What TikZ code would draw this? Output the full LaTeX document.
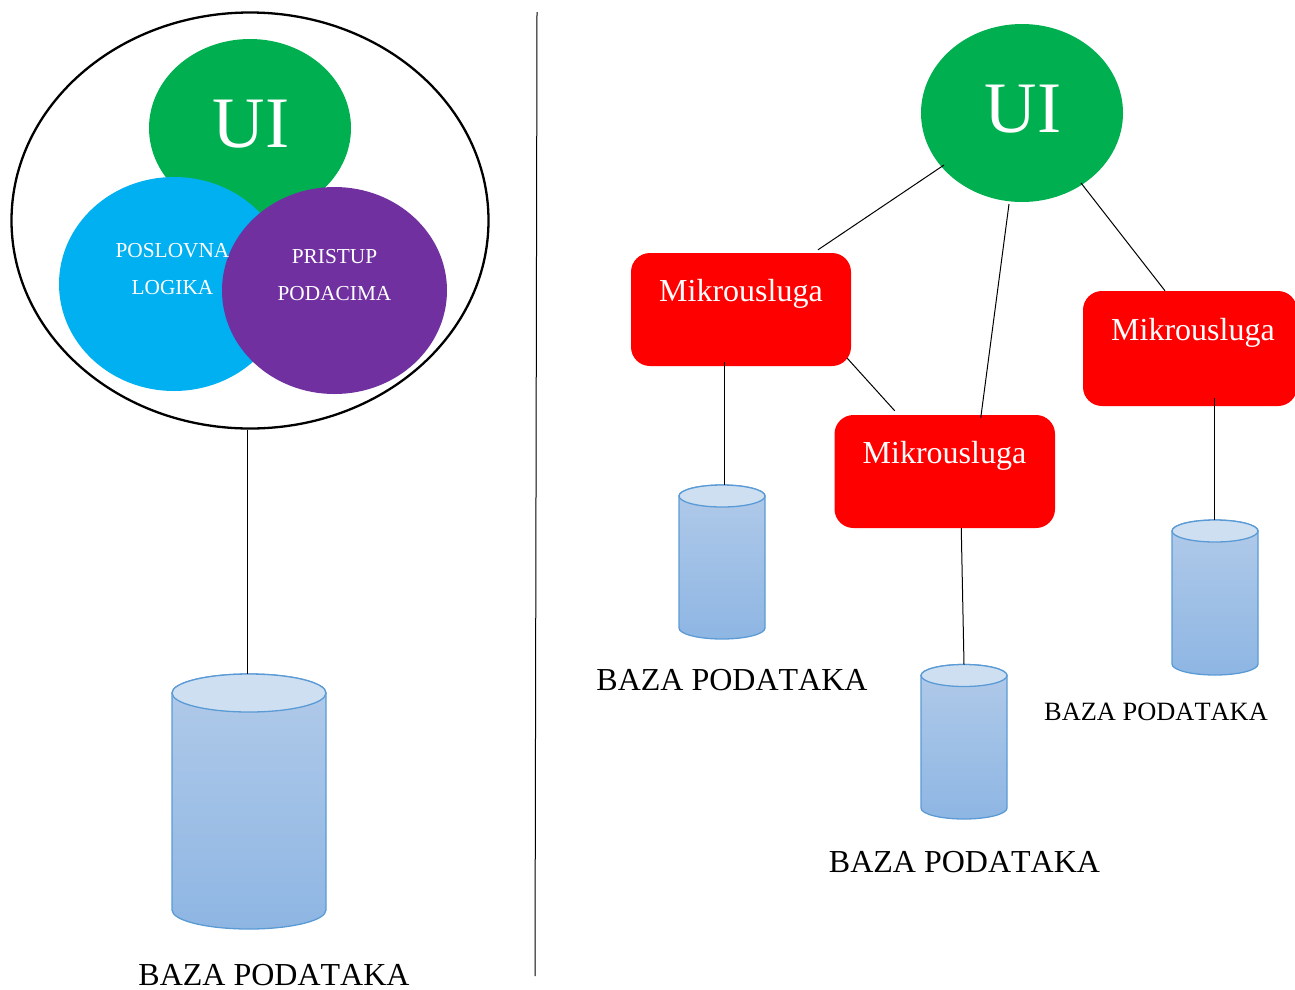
\documentclass[tikz,border=0pt]{standalone}
\usepackage{fontspec}
\setmainfont{Liberation Serif}
\newfontfamily\nokern[Kerning=Off]{Liberation Serif}
\definecolor{uigreen}{HTML}{00B050}
\definecolor{logicblue}{HTML}{00B0F0}
\definecolor{datapurple}{HTML}{7030A0}
\definecolor{dbline}{HTML}{5B9BD5}
\definecolor{dbtop}{HTML}{CFDFF2}
\definecolor{dbshadeA}{HTML}{B1CAE9}
\definecolor{dbshadeB}{HTML}{8EB6E3}
\newcommand{\fsz}[1]{\fontsize{#1}{#1}\selectfont}
\newcommand{\dbcyl}[6]{% name, cx, top-ellipse centre y, bottom-ellipse centre y, rx, ry
  \path[dbbody] (#2-#5,#3) -- (#2-#5,#4) arc[start angle=180,end angle=0,x radius=#5,y radius=#6] -- (#2+#5,#3) arc[start angle=0,end angle=-180,x radius=#5,y radius=#6] -- cycle;
  \draw[dbedge,fill=dbtop] (#2,#3) ellipse[x radius=#5,y radius=#6];
  \coordinate (#1) at (#2,#3-#6);
}
\tikzset{
  x=1pt,y=-1pt,
  micro/.style={shape=rectangle,rounded corners=19pt,fill=red,inner sep=0pt,minimum width=#1,minimum height=113pt},
  micro/.default=220pt,
  link/.style={draw=black,line width=1pt},
  dbbody/.style={draw=dbline,line width=1.3pt,top color=dbshadeA,bottom color=dbshadeB},
  dbedge/.style={draw=dbline,line width=1.3pt},
  whitetext/.style={text=white,anchor=base,inner sep=0pt},
  blacktext/.style={text=black,anchor=base,inner sep=0pt},
}
\usetikzlibrary{shapes.geometric}
\begin{document}
\begin{tikzpicture}
\useasboundingbox (0,0) rectangle (1295,989);
\clip (0,0) rectangle (1295,989);
% left: monolith
\node[shape=ellipse,draw=black,line width=2.3pt,minimum width=477pt,minimum height=416pt,inner sep=0pt] (mono) at (250,220.5) {};
\node[shape=ellipse,fill=uigreen,minimum width=202pt,minimum height=178pt,inner sep=0pt] (uiL) at (250,128) {};
\node[shape=ellipse,fill=logicblue,minimum width=230pt,minimum height=214pt,inner sep=0pt] (logic) at (174,284) {};
\node[shape=ellipse,fill=datapurple,minimum width=225pt,minimum height=207pt,inner sep=0pt] (data) at (334.5,290.5) {};
\node[whitetext,font=\fsz{72.5}] (uiLt) at (251,147) {UI};
\node[whitetext,font=\fsz{21.33}] (logicA) at (172.5,257) {POSLOVNA};
\node[whitetext,font=\fsz{21.33}] (logicB) at (172.5,294) {LOGIKA};
\node[whitetext,font=\fsz{21.33}] (dataA) at (334.5,263) {PRISTUP};
\node[whitetext,font=\fsz{21.33}] (dataB) at (334.5,300) {PODACIMA};
\dbcyl{dbL}{249}{693}{910}{77}{19}
\draw[link] (mono.south) ++(-3,0) coordinate (monoout) -- (monoout |- dbL);
\node[blacktext,font=\nokern\fsz{32}] (dbLt) at (274,985.5) {BAZA PODATAKA};
% divider
\coordinate (divtop) at (537,12);
\coordinate (divbot) at (535,976);
\draw[link] (divtop) -- (divbot);
% right: microservices
\node[shape=ellipse,fill=uigreen,minimum width=202pt,minimum height=178pt,inner sep=0pt] (uiR) at (1022,113) {};
\node[whitetext,font=\fsz{72.5}] (uiRt) at (1023,132) {UI};
\node[micro=220pt] (ms1) at (741,309.5) {};
\node[micro=220.5pt] (ms2) at (944.75,471.5) {};
\node[micro=214pt,minimum height=115pt] (ms3) at (1190,348.5) {};
\node[whitetext,font=\fsz{32}] (ms1t) at (741,301.7) {Mikrousluga};
\node[whitetext,font=\fsz{32}] (ms2t) at (944.5,463.7) {Mikrousluga};
\node[whitetext,font=\fsz{32}] (ms3t) at (1193,340.3) {Mikrousluga};
\dbcyl{db1}{722}{496}{628}{43}{11}
\dbcyl{db2}{964}{675.5}{808}{43}{11}
\dbcyl{db3}{1215}{531}{664}{43}{11}
\node[blacktext,font=\nokern\fsz{32}] (db1t) at (732,690) {BAZA PODATAKA};
\node[blacktext,font=\nokern\fsz{32}] (db2t) at (964.5,872) {BAZA PODATAKA};
\node[blacktext,font=\nokern\fsz{26.4}] (db3t) at (1156,720.5) {BAZA PODATAKA};
% connectors
\draw[link] ([xshift=-78pt,yshift=-52pt]uiR.center) -- ([xshift=77pt,yshift=3pt]ms1.north);
\draw[link] ([xshift=-13pt,yshift=-91pt]uiR.center) -- ([xshift=36pt,yshift=-3pt]ms2.north);
\draw[link] ([xshift=59pt,yshift=-70pt]uiR.center) -- ([xshift=-25pt]ms3.north);
\draw[link] ([xshift=-4pt,yshift=8pt]ms1.south east) -- ([xshift=-50pt,yshift=4pt]ms2.north);
\draw[link] ([xshift=-17pt,yshift=4pt]ms1.south) -- ([xshift=2pt]db1);
\draw[link] ([xshift=16.5pt]ms2.south) -- (db2);
\draw[link] ([xshift=24pt,yshift=8pt]ms3.south) -- ([xshift=-1pt]db3);
\end{tikzpicture}
\end{document}
